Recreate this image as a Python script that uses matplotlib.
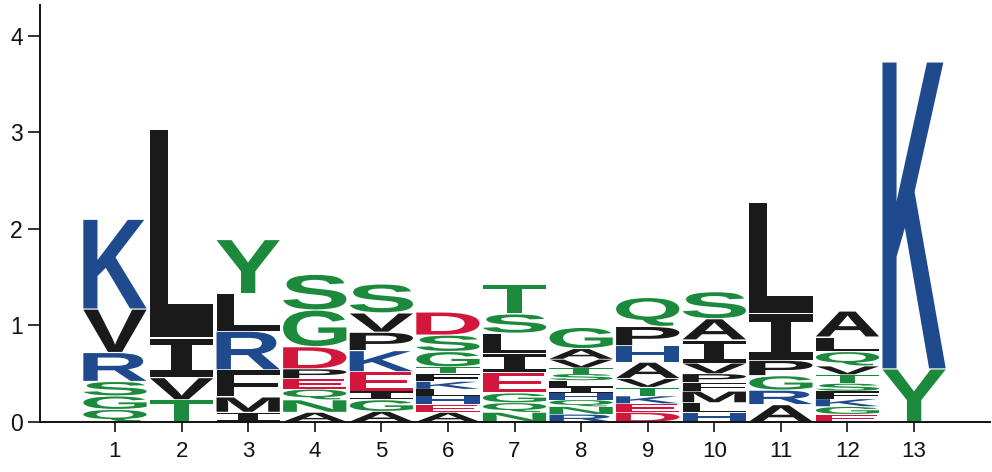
import matplotlib
matplotlib.use("Agg")
import matplotlib.pyplot as plt
from matplotlib.textpath import TextPath
from matplotlib.patches import PathPatch
from matplotlib.path import Path
from matplotlib.font_manager import FontProperties
from matplotlib.transforms import Affine2D

# Sequence logo data: letters per position from bottom to top, with heights (bits)
positions = list(range(1, 14))
letters = [
    "QGSRVK",
    "TVIL",
    "IMFRLY",
    "ANQEPDGS",
    "AGIEKPVS",
    "AEHLKFTGSD",
    "NQGEILST",
    "RNQHILSTVAG",
    "DEKTVAHPQ",
    "HLMFPVIAS",
    "ARGPIL",
    "EGKFSTVQLA",
    "YK",
]
heights = [
    [0.13, 0.14, 0.15, 0.30, 0.45, 0.93],
    [0.23, 0.23, 0.41, 2.16],
    [0.10, 0.16, 0.28, 0.40, 0.39, 0.56],
    [0.10, 0.13, 0.11, 0.11, 0.10, 0.23, 0.38, 0.37],
    [0.11, 0.12, 0.09, 0.20, 0.22, 0.19, 0.20, 0.30],
    [0.10, 0.08, 0.09, 0.07, 0.08, 0.08, 0.07, 0.16, 0.17, 0.24],
    [0.10, 0.10, 0.10, 0.21, 0.20, 0.21, 0.20, 0.31],
    [0.08, 0.08, 0.07, 0.07, 0.06, 0.07, 0.07, 0.06, 0.09, 0.11, 0.22],
    [0.10, 0.09, 0.08, 0.09, 0.09, 0.17, 0.17, 0.20, 0.30],
    [0.10, 0.10, 0.12, 0.09, 0.09, 0.11, 0.24, 0.22, 0.28],
    [0.18, 0.15, 0.15, 0.16, 0.48, 1.15],
    [0.08, 0.08, 0.08, 0.08, 0.08, 0.09, 0.09, 0.15, 0.15, 0.27],
    [0.55, 3.18],
]
yticks = [0, 1, 2, 3, 4]

GREEN = "#1c8a3c"
BLUE = "#1f4b8e"
RED = "#d2163c"
BLACK = "#1a1a1a"
color_map = {}
for c in "GSTYCQN":
    color_map[c] = GREEN
for c in "KRH":
    color_map[c] = BLUE
for c in "DE":
    color_map[c] = RED
for c in "AVLIPFMW":
    color_map[c] = BLACK

fp = FontProperties(family=["Liberation Sans", "DejaVu Sans"], weight="bold")

fig = plt.figure(figsize=(9.92, 4.72), dpi=100)
ax = fig.add_axes([40 / 992, 50 / 472, 950 / 992, 417 / 472])

LETTER_W = 0.95


def glyph_path(ch):
    if ch == "I":
        # serif-style capital I (bars top and bottom, centred stem)
        b = 0.17
        s0, s1 = 0.34, 0.66
        verts = [(0, 0), (1, 0), (1, b), (s1, b), (s1, 1 - b), (1, 1 - b),
                 (1, 1), (0, 1), (0, 1 - b), (s0, 1 - b), (s0, b), (0, b), (0, 0)]
        codes = [Path.MOVETO] + [Path.LINETO] * (len(verts) - 2) + [Path.CLOSEPOLY]
        return Path(verts, codes)
    return TextPath((0, 0), ch, size=1, prop=fp)


def draw_letter(ax, ch, x, y, w, h, color):
    tp = glyph_path(ch)
    bb = tp.get_extents()
    tr = (Affine2D()
          .translate(-bb.x0, -bb.y0)
          .scale(w / bb.width, h / bb.height)
          .translate(x - w / 2, y))
    ax.add_patch(PathPatch(tr.transform_path(tp), fc=color, ec="none", lw=0))


for pos, lets, hs in zip(positions, letters, heights):
    y = 0.0
    for ch, h in zip(lets, hs):
        gap = min(0.012, h * 0.08)
        draw_letter(ax, ch, pos, y + gap / 2, LETTER_W, h - gap, color_map[ch])
        y += h

ax.set_xlim(-0.126, 14.14)
ax.set_ylim(0, 4.32)
ax.set_xticks(positions)
ax.set_xticklabels([str(p) for p in positions],
                   fontsize=16, family=["Liberation Sans Narrow", "Liberation Sans"])
ax.set_yticks(yticks)
ax.set_yticklabels([str(t) for t in yticks], fontsize=16.5,
                   family=["Liberation Sans", "DejaVu Sans"])
for s in ["top", "right"]:
    ax.spines[s].set_visible(False)
for s in ["left", "bottom"]:
    ax.spines[s].set_linewidth(1.4)
    ax.spines[s].set_color("#111111")
ax.tick_params(axis="x", direction="out", length=7.5, width=1.2, pad=6, colors="#111111")
ax.tick_params(axis="y", direction="out", length=8.5, width=1.2, pad=4, colors="#111111")

fig.savefig("out.png", dpi=100)
